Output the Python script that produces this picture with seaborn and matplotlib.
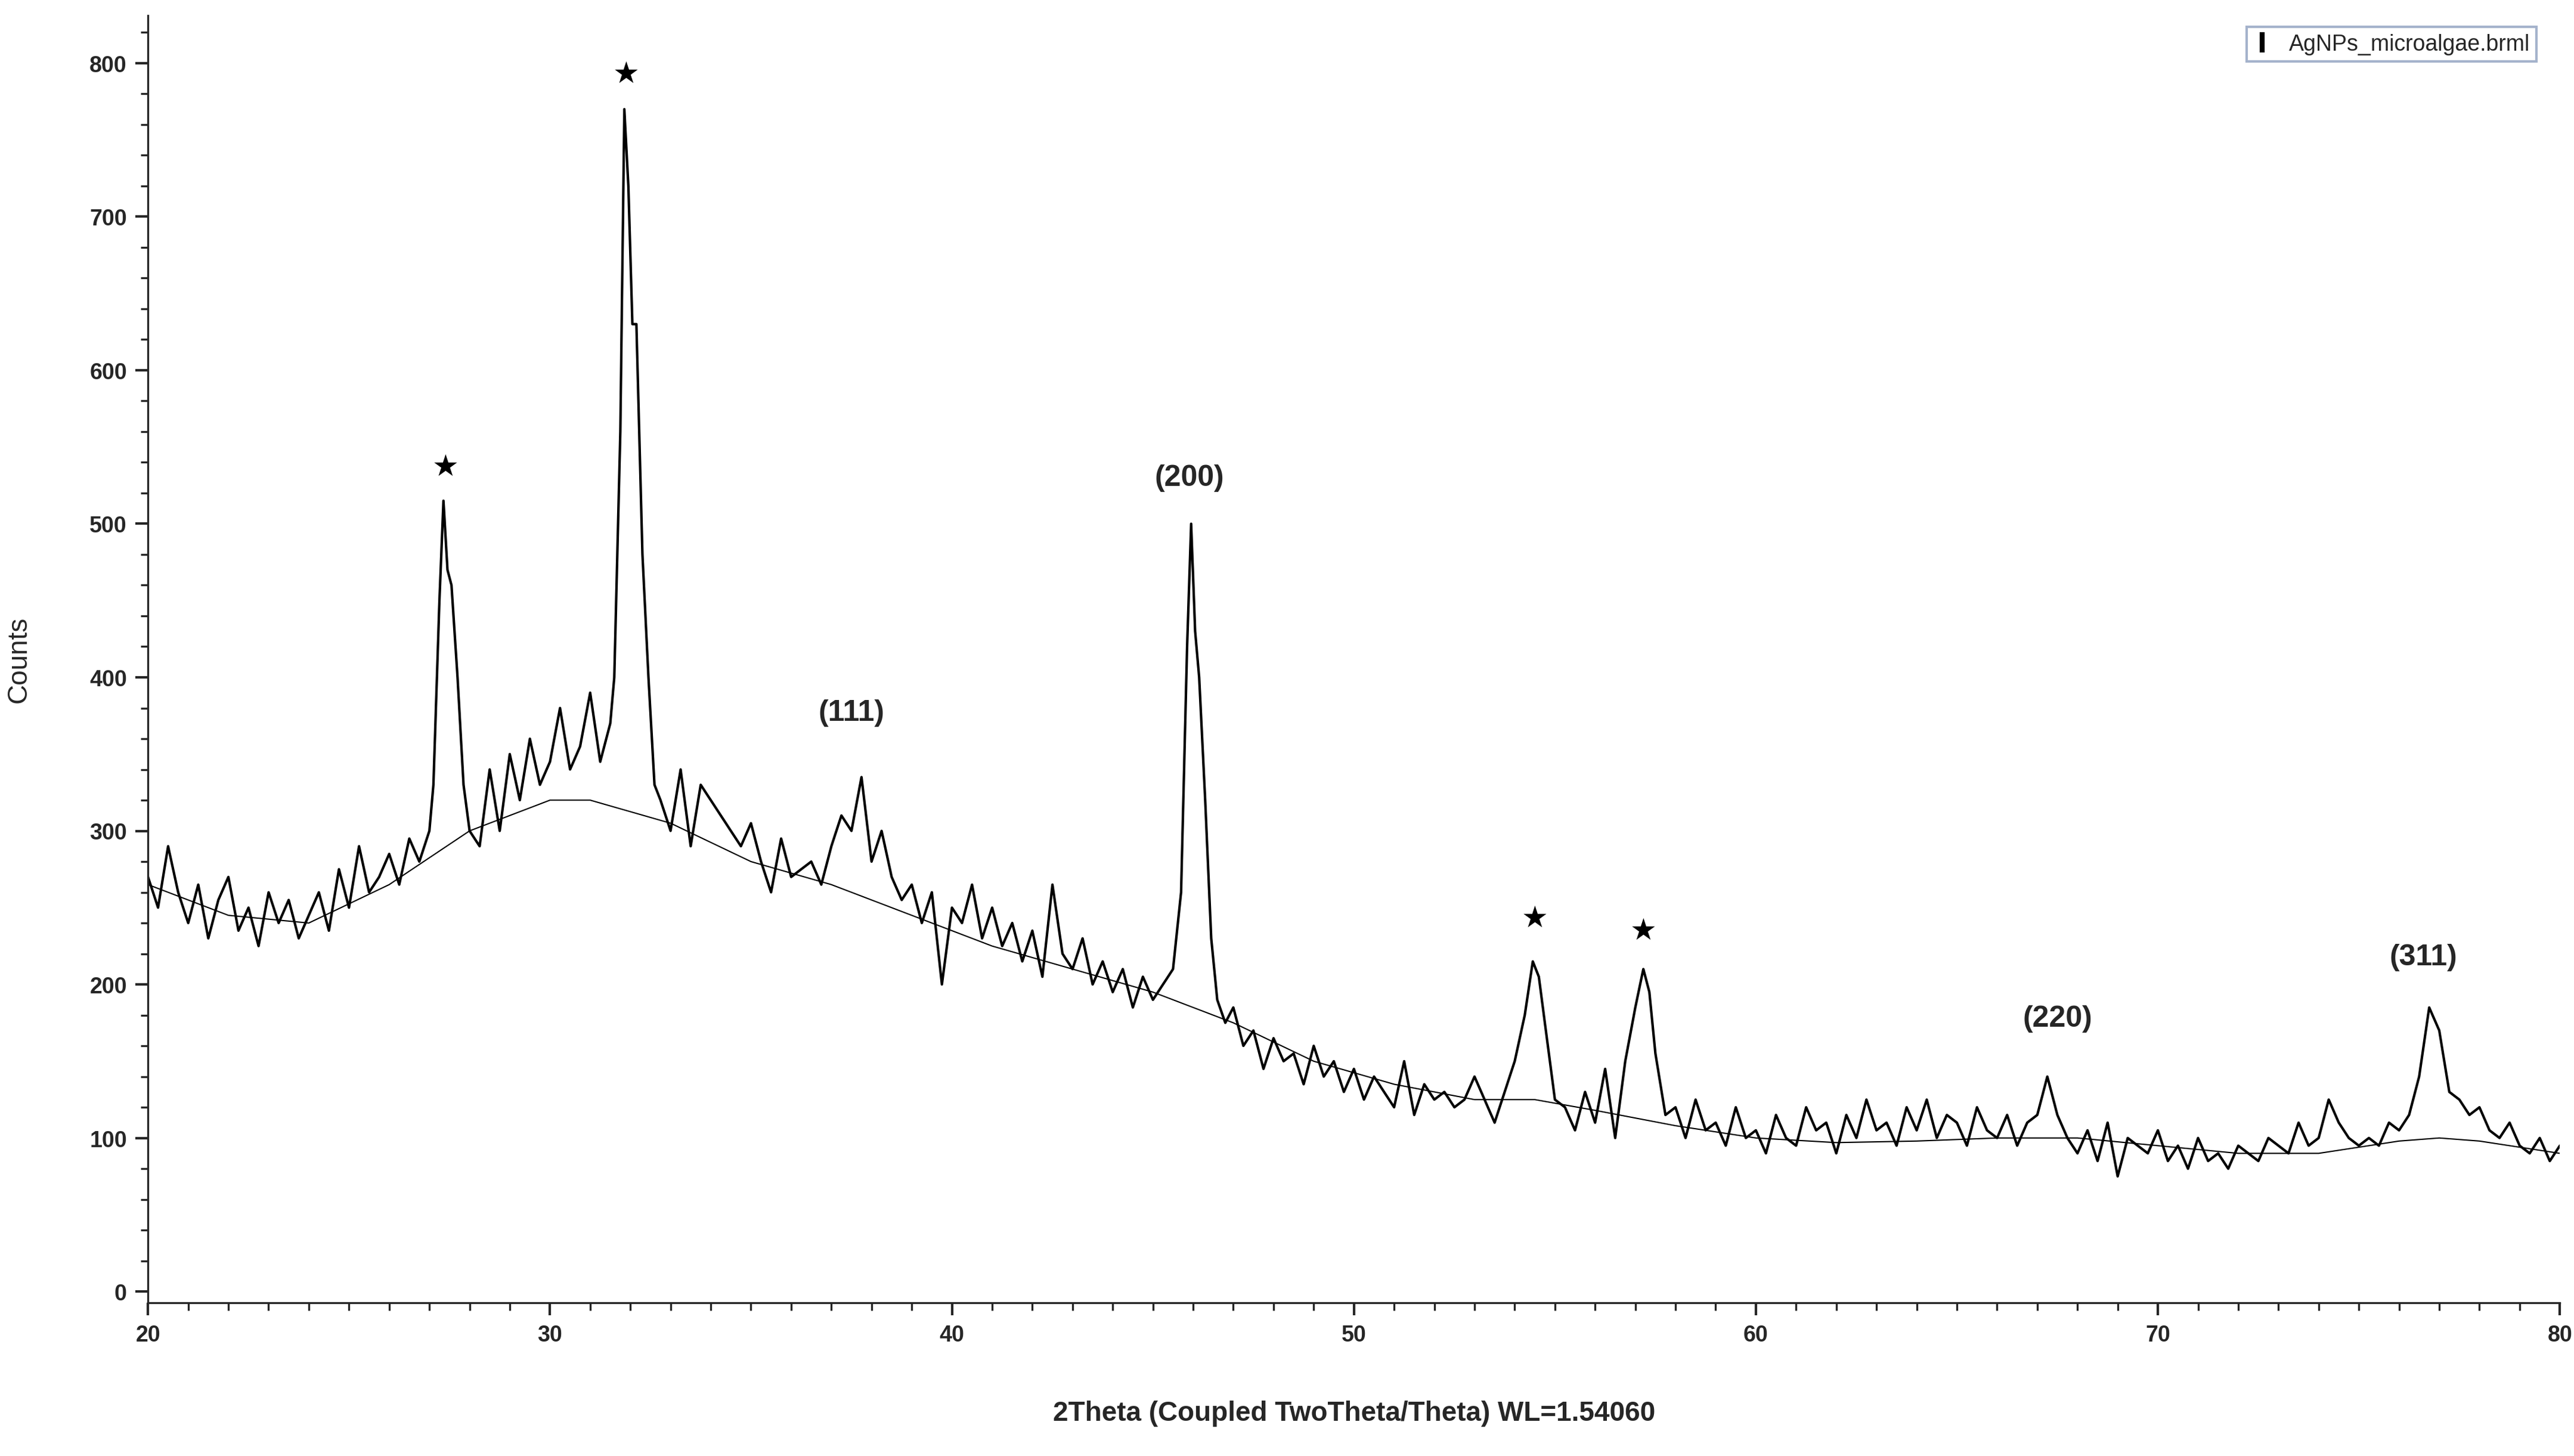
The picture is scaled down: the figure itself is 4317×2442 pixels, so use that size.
import numpy as np
import matplotlib
matplotlib.use("Agg")
import matplotlib.pyplot as plt
import seaborn as sns
import pandas as pd
from matplotlib.lines import Line2D
from matplotlib.ticker import MultipleLocator

sns.set_style("ticks")
plt.rcParams['font.family'] = ['Liberation Sans', 'DejaVu Sans']

x_pts = [20,20.25,20.5,20.75,21,21.25,21.5,21.75,22,22.25,22.5,22.75,23,23.25,23.5,23.75,24,
 24.25,24.5,24.75,25,25.25,25.5,25.75,26,26.25,26.5,26.75,27,
 27.1,27.25,27.35,27.45,27.55,27.7,27.85,28.0,
 28.25,28.5,28.75,29,29.25,29.5,29.75,30,30.25,30.5,30.75,31,31.25,31.5,
 31.6,31.75,31.85,31.95,32.05,32.15,32.3,32.45,32.6,
 32.75,33,33.25,33.5,33.75,34,34.25,34.5,34.75,35,35.25,35.5,35.75,36,36.25,36.5,36.75,37,
 37.25,37.5,37.75,38,38.25,38.5,38.75,39,39.25,39.5,39.75,40,40.25,40.5,40.75,41,41.25,41.5,41.75,42,42.25,42.5,42.75,43,43.25,43.5,43.75,44,44.25,44.5,44.75,45,45.25,45.5,
 45.7,45.85,45.95,46.05,46.15,46.3,46.45,46.6,46.8,47,
 47.25,47.5,47.75,48,48.25,48.5,48.75,49,49.25,49.5,49.75,50,50.25,50.5,50.75,51,51.25,51.5,51.75,52,52.25,52.5,52.75,53,53.25,53.5,53.75,
 54,54.25,54.45,54.6,54.75,55,55.25,55.5,55.75,56,56.25,56.5,56.75,
 57.0,57.2,57.35,57.5,57.75,58,58.25,58.5,58.75]
y_pts = [270,250,290,260,240,265,230,255,270,235,250,225,260,240,255,230,245,
 260,235,275,250,290,260,270,285,265,295,280,300,
 330,450,515,470,460,400,330,300,
 290,340,300,350,320,360,330,345,380,340,355,390,345,370,
 400,560,770,720,630,630,480,400,330,
 320,300,340,290,330,320,310,300,290,305,280,260,295,270,275,280,265,290,
 310,300,335,280,300,270,255,265,240,260,200,250,240,265,230,250,225,240,215,235,205,265,220,210,230,200,215,195,210,185,205,190,200,210,
 260,420,500,430,400,320,230,190,175,185,
 160,170,145,165,150,155,135,160,140,150,130,145,125,140,130,120,150,115,135,125,130,120,125,140,125,110,130,
 150,180,215,205,175,125,120,105,130,110,145,100,150,
 185,210,195,155,115,120,100,125,105]
tail_y = [110,95,120,100,105,90,115,100,95,120,105,110,90,115,100,125,105,110,95,120,
 105,125,100,115,110,95,120,105,100,115,95,110,115,140,115,100,90,105,
 85,110,75,100,95,90,105,85,95,80,100,85,90,80,95,90,85,100,95,90,110,95,100,125,110,100,95,
 100,95,110,105,115,140,185,170,130,125,115,120,105,100,110,95,90,100,85,95]
tail_x = list(59 + 0.25*np.arange(len(tail_y)))

bg_x = [20,22,24,26,28,30,31,33,35,37,39,41,43,45,47,49,51,53,54.5,56,58,60,62,64,66,68,70,72,74,76,77,78,80]
bg_y = [265,245,240,265,300,320,320,305,280,265,245,225,210,195,175,150,135,125,125,118,108,100,97,98,100,100,95,90,90,98,100,98,90]

labels = ["★","★","(111)","(200)","★","★","(220)","(311)"]
lab_x = [27.4,31.9,37.5,45.9,54.5,57.2,67.5,76.6]
lab_y = [537,793,377,530,243,235,178,218]

df = pd.DataFrame({"x": x_pts + tail_x, "y": y_pts + tail_y})
bg = pd.DataFrame({"x": bg_x, "y": bg_y})

fig = plt.figure(figsize=(14.39, 8.143), dpi=300)
ax = fig.add_axes([0.0575, 0.105, 0.937, 0.884])
sns.lineplot(data=df, x="x", y="y", ax=ax, color="black", lw=1.0)
sns.lineplot(data=bg, x="x", y="y", ax=ax, color="black", lw=0.5)
for t, xx, yy in zip(labels, lab_x, lab_y):
    if t == "★":
        ax.text(xx, yy, t, ha="center", va="center", fontsize=12, color="black",
                family=['DejaVu Sans'])
    else:
        ax.text(xx, yy, t, ha="center", va="center", fontsize=12, fontweight="bold")
ax.set_xlim(20, 80)
ax.set_ylim(-7.5, 831)
ax.xaxis.set_major_locator(MultipleLocator(10))
ax.xaxis.set_minor_locator(MultipleLocator(1))
ax.yaxis.set_major_locator(MultipleLocator(100))
ax.yaxis.set_minor_locator(MultipleLocator(20))
ax.tick_params(which="major", length=5, width=1, labelsize=9)
ax.tick_params(which="minor", length=3, width=0.8)
for l in ax.get_xticklabels() + ax.get_yticklabels():
    l.set_fontweight("bold")
sns.despine(ax=ax)
ax.set_xlabel("2Theta (Coupled TwoTheta/Theta) WL=1.54060", fontsize=11, fontweight="bold", labelpad=22)
ax.set_ylabel("Counts", fontsize=11)
ax.yaxis.set_label_coords(-0.048, 0.5)
h = Line2D([], [], color="black", marker="|", linestyle="None", markersize=8, markeredgewidth=2)
leg = ax.legend([h], ["AgNPs_microalgae.brml"], loc="upper right", bbox_to_anchor=(0.995, 1.0),
                fontsize=9, frameon=True, fancybox=False, handlelength=0.8, borderpad=0.3)
leg.get_frame().set_edgecolor("#8fa0c0")
fig.savefig("out.png", dpi=300)
